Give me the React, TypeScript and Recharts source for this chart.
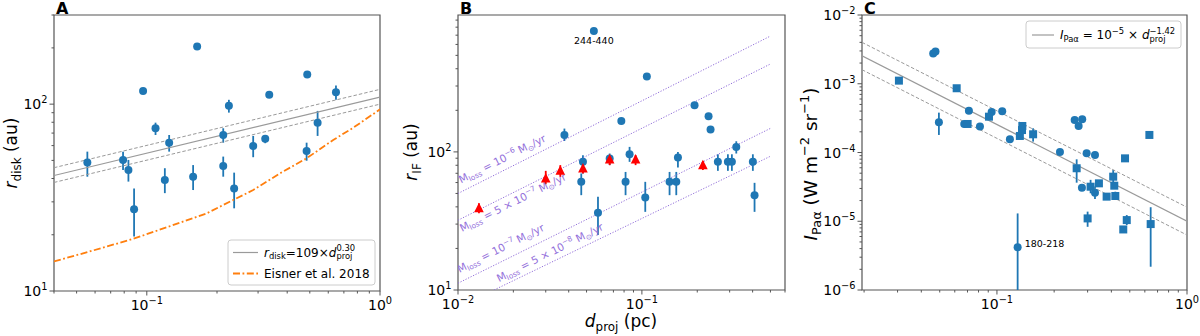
import React from 'react';
import { ScatterChart, Scatter, XAxis, YAxis, ErrorBar, ReferenceArea } from 'recharts';

const BLUE = '#1f77b4';
const ORANGE = '#ff7f0e';
const RED = '#ff0000';
const GRAY = '#9a9a9a';
const PURPLE = '#9370db';
const AXC = '#555555';
const FONT = 'DejaVu Sans, sans-serif';

// ---------------- Panel A : r_disk vs d_proj ----------------
const A_D = [0.0556, 0.0791, 0.0834, 0.0882, 0.0964, 0.109, 0.1195, 0.1247, 0.158, 0.1644, 0.2127, 0.2127, 0.2249, 0.2369, 0.2859, 0.322, 0.335, 0.4845, 0.4875, 0.54, 0.6474];
const A_R = [48.7, 50.3, 44.4, 27.4, 117.5, 74.3, 39.3, 62.2, 40.9, 203.7, 68.4, 46.7, 98, 35.4, 59.7, 65.3, 112.3, 56.1, 144.3, 79.6, 115.9];
const A_LO = [40.9, 44.4, 38.5, 19.6, 114, 68.4, 33.4, 55.7, 34.7, 203.7, 62.2, 40.9, 90.1, 27.7, 52, 61.8, 112.3, 49.8, 144.3, 67.6, 105.5];
const A_HI = [55.7, 55.7, 50.3, 35.4, 121, 79.6, 45.4, 68.4, 47.2, 203.7, 74.3, 52.4, 105.5, 43, 67.6, 68.4, 112.3, 62.2, 144.3, 92, 126];
const A_FIT_X = [0.04, 1];
const A_FIT_MID = [41.5, 109];
const A_FIT_UP = [45.7, 120];
const A_FIT_LOW = [38.1, 100];
const EISNER_X = [0.04, 0.0533, 0.0873, 0.1386, 0.1803, 0.2346, 0.286, 0.372, 0.4845, 0.63, 0.768, 1.0];
const EISNER_Y = [14.4, 15.9, 19.0, 23.2, 26.0, 30.7, 34.7, 42.6, 51.3, 64.3, 74.8, 93.8];
const A_XDOM = [0.04, 1];
const A_YDOM = [10, 300];
const A_XTICKS = [0.04, 0.05, 0.06, 0.07, 0.08, 0.09, 0.1, 0.2, 0.3, 0.4, 0.5, 0.6, 0.7, 0.8, 0.9, 1];
const A_YTICKS = [10, 20, 30, 40, 50, 60, 70, 80, 90, 100, 200, 300];

// ---------------- Panel B : r_IF vs d_proj ----------------
const B_D = [0.0548, 0.0379, 0.0478, 0.0468, 0.0577, 0.0668, 0.0773, 0.0857, 0.0815, 0.1043, 0.1064, 0.1414, 0.1538, 0.157, 0.1933, 0.2304, 0.2362, 0.2589, 0.2935, 0.3085, 0.326, 0.4012, 0.4098];
const B_R = [750, 132.7, 84.7, 60.7, 36.2, 89.5, 167.5, 96.1, 60.7, 46.8, 352, 60.7, 60.7, 91, 217.7, 181, 145.2, 84.7, 84.7, 84.7, 108.7, 84.7, 48.6];
const B_LO = [750, 120, 69.8, 48.6, 25.0, 80.2, 167.5, 84.7, 48.6, 36.8, 352, 48.6, 48.6, 77.1, 217.7, 181, 137, 72.9, 72.9, 72.9, 97.3, 72.9, 36.8];
const B_HI = [750, 147.5, 94.7, 69.8, 47.3, 97.3, 167.5, 108.7, 71.6, 60.7, 352, 71.6, 71.6, 100, 217.7, 181, 153.5, 96.1, 96.1, 96.1, 119.4, 96.1, 59.7];
const B_TRI_D = [0.013, 0.03, 0.036, 0.0478, 0.0668, 0.0924, 0.2146];
const B_TRI_R = [39, 64.3, 72.9, 75.9, 88.1, 88.1, 80.2];
const B_TRI_LO = [35.9, 58.3, 65.9, 69.8, 80.2, 80.2, 73.9];
const B_TRI_HI = [42.4, 72.9, 80.2, 82.4, 94.7, 94.7, 86];
const MLOSS_X = [0.01, 0.5];
const MLOSS_1E6 = [50, 690];
const MLOSS_5E7 = [32, 433];
const MLOSS_1E7 = [11.2, 148];
const MLOSS_5E8_X = [0.0157, 0.5];
const MLOSS_5E8 = [10, 93];
const MLOSS_LABEL_X = [0.0104, 0.0105, 0.0102, 0.0167];
const MLOSS_LABEL_Y = [59, 26.3, 13.3, 11.4];
const MLOSS_LABEL_FACTOR = ['', '5 × ', '', '5 × '];
const MLOSS_LABEL_EXP = ['−6', '−7', '−7', '−8'];
const B_NOTE = { x: 0.0548, y: 750, text: '244-440' };
const B_XDOM = [0.01, 0.6];
const B_YDOM = [10, 980];
const B_XTICKS = [0.01, 0.02, 0.03, 0.04, 0.05, 0.06, 0.07, 0.08, 0.09, 0.1, 0.2, 0.3, 0.4, 0.5, 0.6];
const B_YTICKS = [10, 20, 30, 40, 50, 60, 70, 80, 90, 100, 200, 300, 400, 500, 600, 700, 800, 900];

// ---------------- Panel C : I_Paα vs d_proj ----------------
const C_CIRC_D = [0.0462, 0.0475, 0.0495, 0.0673, 0.0712, 0.0814, 0.0938, 0.1066, 0.117, 0.1285, 0.2146, 0.2564, 0.269, 0.281, 0.2965, 0.328, 0.28, 0.328];
const C_CIRC_I = [2.75e-3, 2.95e-3, 2.75e-4, 2.6e-4, 4.05e-4, 2.38e-4, 3.88e-4, 3.97e-4, 1.56e-4, 4.2e-6, 1.02e-4, 2.97e-4, 2.43e-4, 3.04e-4, 9.73e-5, 9.2e-5, 3.07e-5, 2.6e-5];
const C_CIRC_LO = [2.75e-3, 2.95e-3, 1.8e-4, 2.6e-4, 4.05e-4, 2.38e-4, 3.88e-4, 3.97e-4, 1.56e-4, 1e-6, 1.02e-4, 2.97e-4, 2.43e-4, 3.04e-4, 9.73e-5, 9.2e-5, 3.07e-5, 2.1e-5];
const C_CIRC_HI = [2.75e-3, 2.95e-3, 3.8e-4, 2.6e-4, 4.05e-4, 2.38e-4, 3.88e-4, 3.97e-4, 1.56e-4, 1.3e-5, 1.02e-4, 2.97e-4, 2.43e-4, 3.04e-4, 9.73e-5, 9.2e-5, 3.07e-5, 3.2e-5];
const C_SQ_D = [0.0305, 0.0614, 0.0701, 0.0908, 0.132, 0.1355, 0.136, 0.155, 0.2627, 0.3, 0.311, 0.344, 0.3777, 0.409, 0.4144, 0.4196, 0.472, 0.482, 0.462, 0.634, 0.644];
const C_SQ_I = [1.11e-3, 8.6e-4, 2.6e-4, 3.32e-4, 1.74e-4, 2.12e-4, 2.43e-4, 1.84e-4, 5.9e-5, 1.1e-5, 3.18e-5, 3.56e-5, 2.28e-5, 4.45e-5, 3.29e-5, 2.33e-5, 8.22e-5, 1.04e-5, 7.6e-6, 1.8e-4, 9.1e-6];
const C_SQ_LO = [1.11e-3, 8.6e-4, 2.6e-4, 3.32e-4, 1.74e-4, 2.12e-4, 2.1e-4, 1.44e-4, 3.64e-5, 8.3e-6, 2.55e-5, 3.56e-5, 2.28e-5, 3.56e-5, 3.29e-5, 2.04e-5, 8.22e-5, 8.8e-6, 7.6e-6, 1.8e-4, 2.18e-6];
const C_SQ_HI = [1.11e-3, 8.6e-4, 2.6e-4, 3.32e-4, 1.74e-4, 2.12e-4, 2.7e-4, 2.25e-4, 7.96e-5, 1.38e-5, 4.0e-5, 3.56e-5, 2.28e-5, 5.56e-5, 3.29e-5, 2.69e-5, 8.22e-5, 1.23e-5, 7.6e-6, 1.8e-4, 1.6e-5];
const C_FIT_X = [0.0195, 1];
const C_FIT_MID = [2.55e-3, 1.0e-5];
const C_FIT_UP = [4.0e-3, 1.6e-5];
const C_FIT_LOW = [1.6e-3, 6.3e-6];
const C_NOTE = { x: 0.1285, y: 4.2e-6, text: '180-218' };
const C_XDOM = [0.0195, 1];
const C_YDOM = [1e-6, 1e-2];
const C_XTICKS = [0.02, 0.03, 0.04, 0.05, 0.06, 0.07, 0.08, 0.09, 0.1, 0.2, 0.3, 0.4, 0.5, 0.6, 0.7, 0.8, 0.9, 1];
const C_YMAJOR = [1e-6, 1e-5, 1e-4, 1e-3, 1e-2];
const C_YTICKS = C_YMAJOR.flatMap((d, i) => (i < C_YMAJOR.length - 1 ? [1, 2, 3, 4, 5, 6, 7, 8, 9].map((m) => m * d) : [d]));

// ---------------- helpers ----------------
const pts = (xs: number[], ys: number[], lo?: number[], hi?: number[]) =>
  xs.map((x, i) => ({ x, y: ys[i], err: lo && hi ? [ys[i] - lo[i], hi[i] - ys[i]] : [0, 0] }));

type Kind = 'n' | 'i' | 'sub' | 'sup';
type Part = [string, Kind?, number?];

function MT(props: { x: number; y: number; size: number; parts: Part[]; anchor?: string; rotate?: number; fill?: string; weight?: string }) {
  const { x, y, size, parts, anchor = 'start', rotate = 0, fill = '#000', weight = 'normal' } = props;
  let cur = 0;
  return (
    <text x={x} y={y} fontSize={size} fontFamily={FONT} textAnchor={anchor as any} fill={fill} fontWeight={weight}
      transform={rotate ? `rotate(${rotate} ${x} ${y})` : undefined} style={{ whiteSpace: 'pre' }}>
      {parts.map(([t, k = 'n', dx], i) => {
        const small = k === 'sub' || k === 'sup';
        const target = k === 'sub' ? 0.22 * size : k === 'sup' ? -0.42 * size : 0;
        const dy = target - cur;
        cur = target;
        return (
          <tspan key={i} dy={dy} dx={dx} fontSize={small ? 0.7 * size : size} fontStyle={k === 'i' ? 'italic' : 'normal'}>{t}</tspan>
        );
      })}
    </text>
  );
}

const expStr = (e: number) => (e < 0 ? '−' + Math.abs(e) : String(e));
const majorExp = (v: number) => {
  const l = Math.log10(v);
  const e = Math.round(l);
  return Math.abs(l - e) < 1e-6 ? e : null;
};

const XTick = (p: any) => {
  const { x, y, payload } = p;
  const e = majorExp(payload.value);
  return (
    <g>
      <line x1={x} x2={x} y1={y} y2={y + (e !== null ? 4.5 : 2.5)} stroke={AXC} strokeWidth={1} />
      {e !== null && <MT x={x} y={y + 19} size={14} anchor="middle" parts={[['10'], [expStr(e), 'sup']]} />}
    </g>
  );
};
const YTick = (p: any) => {
  const { x, y, payload } = p;
  const e = majorExp(payload.value);
  return (
    <g>
      <line x1={x - (e !== null ? 4.5 : 2.5)} x2={x} y1={y} y2={y} stroke={AXC} strokeWidth={1} />
      {e !== null && <MT x={x - 6.5} y={y + 5} size={14} anchor="end" parts={[['10'], [expStr(e), 'sup']]} />}
    </g>
  );
};

const none = () => <g />;
const circle = (r: number, fill: string) => (p: any) => <circle cx={p.cx} cy={p.cy} r={r} fill={fill} />;
const square = (p: any) => <rect x={p.cx - 4} y={p.cy - 4} width={8} height={8} fill={BLUE} />;
const triangle = (p: any) => (
  <polygon points={`${p.cx},${p.cy - 5.5} ${p.cx - 4.8},${p.cy + 4} ${p.cx + 4.8},${p.cy + 4}`} fill={RED} />
);

const axes = (xdom: number[], ydom: number[], xt: number[], yt: number[]) => [
  <XAxis key="x" type="number" dataKey="x" scale="log" domain={xdom} allowDataOverflow ticks={xt} interval={0}
    tick={(p: any) => <XTick {...p} />} tickSize={0} tickMargin={0} tickLine={false} axisLine={false} height={30} />,
  <YAxis key="y" type="number" dataKey="y" scale="log" domain={ydom} allowDataOverflow ticks={yt} interval={0}
    tick={(p: any) => <YTick {...p} />} tickSize={0} tickMargin={0} tickLine={false} axisLine={false} width={40} />,
  <ReferenceArea key="frame" x1={xdom[0]} x2={xdom[1]} y1={ydom[0]} y2={ydom[1]} fill="none" fillOpacity={0}
    stroke={AXC} strokeWidth={1.2} ifOverflow="visible" />,
];

const lineSeries = (xs: number[], ys: number[], stroke: string, width: number, dash?: string) => (
  <Scatter data={pts(xs, ys)} shape={none} isAnimationActive={false}
    line={{ stroke, strokeWidth: width, strokeDasharray: dash }} fill={stroke} />
);

// ---------------- panels ----------------
function PanelA() {
  return (
    <ScatterChart width={400} height={336} margin={{ top: 15, right: 20, bottom: 15, left: 14 }} style={{ fontFamily: FONT }}>
      {axes(A_XDOM, A_YDOM, A_XTICKS, A_YTICKS)}
      {lineSeries(EISNER_X, EISNER_Y, ORANGE, 1.8, '7 2.5 1.8 2.5')}
      {lineSeries(A_FIT_X, A_FIT_UP, GRAY, 1, '3.5 2')}
      {lineSeries(A_FIT_X, A_FIT_LOW, GRAY, 1, '3.5 2')}
      {lineSeries(A_FIT_X, A_FIT_MID, GRAY, 1.2)}
      <Scatter data={pts(A_D, A_R, A_LO, A_HI)} shape={circle(4, BLUE)} fill={BLUE} isAnimationActive={false}>
        <ErrorBar dataKey="err" direction="y" width={0} stroke={BLUE} strokeWidth={1.8} />
      </Scatter>
    </ScatterChart>
  );
}

const mlossLabel = (p: any) => {
  const d = p.payload;
  return (
    <MT x={p.cx} y={p.cy} size={10.5} rotate={-26.6} fill={PURPLE}
      parts={[['M'], ['loss', 'sub'], [' = ' + d.f + '10'], [d.e, 'sup'], [' M'], ['⊙', 'sub'], ['/yr']]} />
  );
};

function PanelB() {
  const labels = MLOSS_LABEL_X.map((x, i) => ({ x, y: MLOSS_LABEL_Y[i], f: MLOSS_LABEL_FACTOR[i], e: MLOSS_LABEL_EXP[i] }));
  return (
    <ScatterChart width={400} height={336} margin={{ top: 15, right: 15, bottom: 16, left: 18 }} style={{ fontFamily: FONT }}>
      {axes(B_XDOM, B_YDOM, B_XTICKS, B_YTICKS)}
      {lineSeries(MLOSS_X, MLOSS_1E6, PURPLE, 1, '1.2 1.6')}
      {lineSeries(MLOSS_X, MLOSS_5E7, PURPLE, 1, '1.2 1.6')}
      {lineSeries(MLOSS_X, MLOSS_1E7, PURPLE, 1, '1.2 1.6')}
      {lineSeries(MLOSS_5E8_X, MLOSS_5E8, PURPLE, 1, '1.2 1.6')}
      <Scatter data={labels} shape={mlossLabel} isAnimationActive={false} fill={PURPLE} />
      <Scatter data={pts(B_D, B_R, B_LO, B_HI)} shape={circle(4, BLUE)} fill={BLUE} isAnimationActive={false}>
        <ErrorBar dataKey="err" direction="y" width={0} stroke={BLUE} strokeWidth={1.8} />
      </Scatter>
      <Scatter data={pts(B_TRI_D, B_TRI_R, B_TRI_LO, B_TRI_HI)} shape={triangle} fill={RED} isAnimationActive={false}>
        <ErrorBar dataKey="err" direction="y" width={0} stroke={RED} strokeWidth={1.8} />
      </Scatter>
      <Scatter data={[B_NOTE]} isAnimationActive={false}
        shape={(p: any) => <text x={p.cx} y={p.cy + 13} textAnchor="middle" fontSize={9.5} fontFamily={FONT} fill="#000">{p.payload.text}</text>} />
    </ScatterChart>
  );
}

function PanelC() {
  return (
    <ScatterChart width={400} height={336} margin={{ top: 15, right: 13, bottom: 16, left: 22 }} style={{ fontFamily: FONT }}>
      {axes(C_XDOM, C_YDOM, C_XTICKS, C_YTICKS)}
      {lineSeries(C_FIT_X, C_FIT_UP, GRAY, 1, '3.5 2')}
      {lineSeries(C_FIT_X, C_FIT_LOW, GRAY, 1, '3.5 2')}
      {lineSeries(C_FIT_X, C_FIT_MID, GRAY, 1.2)}
      <Scatter data={pts(C_CIRC_D, C_CIRC_I, C_CIRC_LO, C_CIRC_HI)} shape={circle(4, BLUE)} fill={BLUE} isAnimationActive={false}>
        <ErrorBar dataKey="err" direction="y" width={0} stroke={BLUE} strokeWidth={1.8} />
      </Scatter>
      <Scatter data={pts(C_SQ_D, C_SQ_I, C_SQ_LO, C_SQ_HI)} shape={square} fill={BLUE} isAnimationActive={false}>
        <ErrorBar dataKey="err" direction="y" width={0} stroke={BLUE} strokeWidth={1.8} />
      </Scatter>
      <Scatter data={[C_NOTE]} isAnimationActive={false}
        shape={(p: any) => <text x={p.cx + 7} y={p.cy} fontSize={9.5} fontFamily={FONT} fill="#000">{p.payload.text}</text>} />
    </ScatterChart>
  );
}

export default function App() {
  return (
    <div style={{ position: 'absolute', left: 0, top: 0, width: 1200, height: 336, background: '#fff', overflow: 'hidden' }}>
      <div style={{ position: 'absolute', left: 0, top: 0 }}><PanelA /></div>
      <div style={{ position: 'absolute', left: 400, top: 0 }}><PanelB /></div>
      <div style={{ position: 'absolute', left: 800, top: 0 }}><PanelC /></div>
      <svg width={1200} height={336} style={{ position: 'absolute', left: 0, top: 0, pointerEvents: 'none' }}>
        {/* panel letters */}
        <MT x={56} y={13.5} size={16} weight="bold" parts={[['A']]} />
        <MT x={460} y={13.5} size={16} weight="bold" parts={[['B']]} />
        <MT x={864} y={13.5} size={16} weight="bold" parts={[['C']]} />
        {/* axis titles */}
        <MT x={17} y={153} size={17} rotate={-90} anchor="middle" parts={[['r', 'i'], ['disk', 'sub'], [' (au)']]} />
        <MT x={417} y={152} size={17} rotate={-90} anchor="middle" parts={[['r', 'i'], ['IF', 'sub'], [' (au)']]} />
        <MT x={621} y={327} size={17} anchor="middle" parts={[['d', 'i'], ['proj', 'sub'], [' (pc)']]} />
        <MT x={817} y={164} size={18.5} rotate={-90} anchor="middle"
          parts={[['I', 'i'], ['Paα', 'sub'], [' (W m'], ['−2', 'sup'], [' sr'], ['−1', 'sup'], [')']]} />
        {/* legend A */}
        <rect x={228} y={240} width={147} height={45} rx={3} fill="#fff" fillOpacity={0.85} stroke="#cccccc" strokeWidth={1} />
        <line x1={233} x2={258} y1={252.5} y2={252.5} stroke={GRAY} strokeWidth={1.2} />
        <MT x={264} y={256.5} size={12}
          parts={[['r', 'i'], ['disk', 'sub'], ['=109×'], ['d', 'i'], ['0.30', 'sup'], ['proj', 'sub', -18.7]]} />
        <line x1={233} x2={258} y1={273.5} y2={273.5} stroke={ORANGE} strokeWidth={1.8} strokeDasharray="7 2.5 1.8 2.5" />
        <MT x={264} y={278} size={12} parts={[['Eisner et al. 2018']]} />
        {/* legend C */}
        <rect x={1026} y={21} width={155} height={27} rx={3} fill="#fff" fillOpacity={0.85} stroke="#cccccc" strokeWidth={1} />
        <line x1={1032} x2={1054} y1={35} y2={35} stroke={GRAY} strokeWidth={1.2} />
        <MT x={1060} y={39} size={12}
          parts={[['I', 'i'], ['Paα', 'sub'], [' = 10'], ['−5', 'sup'], [' × '], ['d', 'i'], ['−1.42', 'sup'], ['proj', 'sub', -25.7]]} />
      </svg>
    </div>
  );
}
